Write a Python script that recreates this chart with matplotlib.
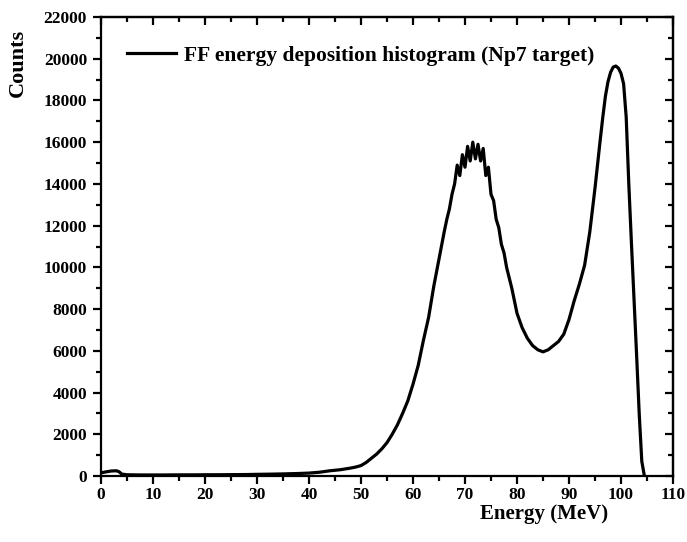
import numpy as np
import matplotlib
matplotlib.use("Agg")
import matplotlib.pyplot as plt
from matplotlib.ticker import MultipleLocator

# energy bins (MeV) and counts
energy = [0, 1, 2, 3, 3.5, 4, 5, 6, 8, 10,
          12, 15, 18, 20, 22, 25, 28, 30, 33, 35,
          38, 40, 42, 44, 46, 48, 49, 50, 51, 52,
          53, 54, 55, 56, 57, 58, 59, 60, 61, 62,
          63, 64, 65, 66, 66.5, 67, 67.5, 68, 68.5, 69,
          69.5, 70, 70.5, 71, 71.5, 72, 72.5, 73, 73.5, 74,
          74.5, 75, 75.5, 76, 76.5, 77, 77.5, 78, 79, 80,
          81, 82, 83, 84, 85, 86, 87, 88, 89, 90,
          91, 92, 93, 94, 95, 96, 96.5, 97, 97.5, 98,
          98.5, 99, 99.5, 100, 100.5, 101, 101.5, 102, 102.5, 103,
          103.5, 104, 104.5]
counts = [150, 200, 240, 250, 200, 90, 60, 55, 50, 50,
          50, 55, 55, 60, 60, 65, 70, 80, 90, 100,
          120, 140, 180, 250, 300, 380, 430, 500, 650, 850,
          1050, 1300, 1600, 2000, 2450, 3000, 3600, 4400, 5300, 6500,
          7600, 9100, 10400, 11700, 12300, 12800, 13500, 14000, 14900, 14400,
          15400, 14800, 15800, 15100, 16000, 15200, 15900, 15100, 15700, 14400,
          14800, 13500, 13200, 12300, 11900, 11100, 10700, 10000, 9000, 7800,
          7100, 6600, 6250, 6050, 5950, 6050, 6250, 6450, 6800, 7500,
          8400, 9200, 10100, 11700, 13800, 16100, 17200, 18200, 18900, 19350,
          19600, 19650, 19550, 19300, 18800, 17200, 14000, 11200, 8500, 5800,
          3000, 700, 0]

plt.rcParams['font.family'] = ['Liberation Serif', 'DejaVu Serif']
plt.rcParams['font.weight'] = 'bold'

fig = plt.figure(figsize=(6.87, 5.42), dpi=100)
ax = fig.add_axes([101/687, 1-476/542, 572/687, 459/542])

ax.plot(energy, counts, color='black', lw=2.3,
        label='FF energy deposition histogram (Np7 target)')

ax.set_xlim(0, 110)
ax.set_ylim(0, 22000)
ax.xaxis.set_major_locator(MultipleLocator(10))
ax.xaxis.set_minor_locator(MultipleLocator(5))
ax.yaxis.set_major_locator(MultipleLocator(2000))
ax.yaxis.set_minor_locator(MultipleLocator(1000))

for s in ax.spines.values():
    s.set_linewidth(1.6)

ax.tick_params(axis='both', which='both', width=1.6, labelsize=12.5)
ax.tick_params(axis='x', which='both', direction='out', top=False)
ax.tick_params(axis='y', which='both', direction='out', right=False)
ax.tick_params(which='major', length=6)
ax.tick_params(which='minor', length=3.5)
ax.tick_params(axis='x', which='major', pad=2)
ax.tick_params(axis='y', which='major', pad=4)

# inward ticks on the top and right edges
axt = ax.secondary_xaxis('top')
axt.xaxis.set_major_locator(MultipleLocator(10))
axt.xaxis.set_minor_locator(MultipleLocator(5))
axt.tick_params(which='both', direction='in', labeltop=False, width=1.6)
axt.tick_params(which='major', length=6)
axt.tick_params(which='minor', length=3.5)
axt.spines['top'].set_linewidth(1.6)
axr = ax.secondary_yaxis('right')
axr.yaxis.set_major_locator(MultipleLocator(2000))
axr.yaxis.set_minor_locator(MultipleLocator(1000))
axr.tick_params(which='both', direction='in', labelright=False, width=1.6)
axr.tick_params(which='major', length=6)
axr.tick_params(which='minor', length=3.5)
axr.spines['right'].set_linewidth(1.6)

ax.set_xlabel('Energy (MeV)', fontsize=15, fontweight='bold')
ax.xaxis.label.set_va('top')
ax.xaxis.set_label_coords(0.775, -0.062)
ax.set_ylabel('Counts', fontsize=16, fontweight='bold')
ax.yaxis.set_label_coords(-0.128, 0.9)

leg = ax.legend(loc='center left', frameon=False, fontsize=15.5, handlelength=2.3,
                handletextpad=0.35, borderpad=0, borderaxespad=0,
                bbox_to_anchor=(0.045, 0.916))

fig.savefig('out.png', dpi=100)
